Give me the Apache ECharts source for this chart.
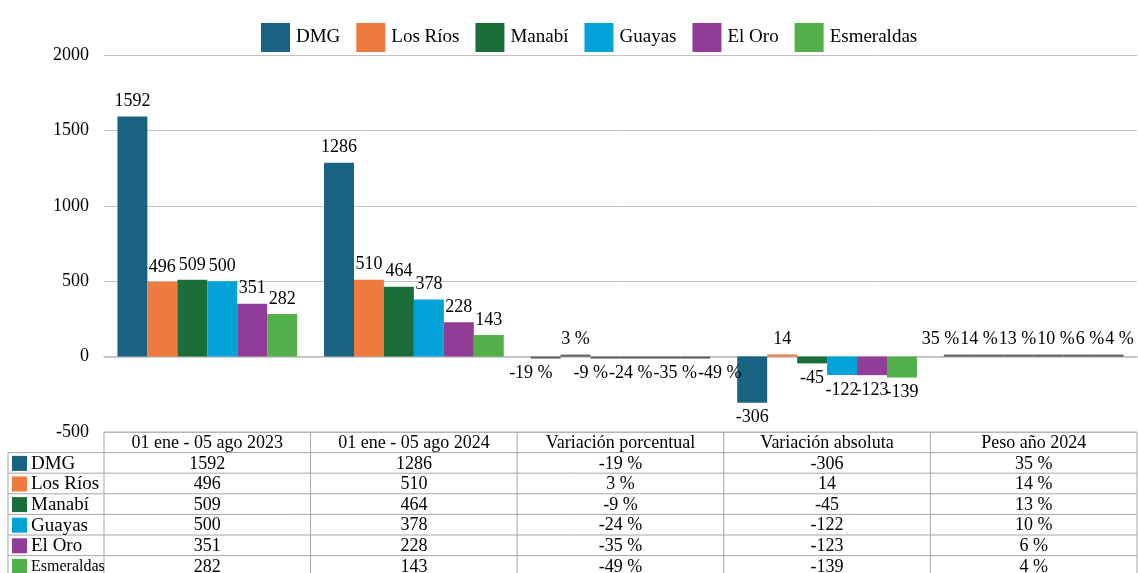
<!DOCTYPE html>
<html>
<head>
<meta charset="utf-8">
<script src="https://cdn.jsdelivr.net/npm/echarts@6/dist/echarts.min.js"></script>
<style>
  html, body { margin: 0; padding: 0; background: #fff; }
  #chart { width: 1138px; height: 573px; }
</style>
</head>
<body>
<div id="chart"></div>
<script>
// categorías del eje x (columnas de la tabla)
const categories = [
  "01 ene - 05 ago 2023",
  "01 ene - 05 ago 2024",
  "Variación porcentual",
  "Variación absoluta",
  "Peso año 2024",
];
// series (filas de la tabla)
const regions = ["DMG", "Los Ríos", "Manabí", "Guayas", "El Oro", "Esmeraldas"];
const colors = ["#1a6282", "#ee7a3f", "#1b6e3a", "#00a2d7", "#913c96", "#51b04a"];

const y2023 = [1592, 496, 509, 500, 351, 282];
const y2024 = [1286, 510, 464, 378, 228, 143];
const varPct = [-0.19, 0.03, -0.09, -0.24, -0.35, -0.49];
const varAbs = [-306, 14, -45, -122, -123, -139];
const peso = [0.35, 0.14, 0.13, 0.1, 0.06, 0.04];

const yTicks = { min: -500, max: 2000, interval: 500 };
const pctCols = [2, 4];

const FONT = "Liberation Serif";
const GRID = { left: 104, right: 1, top: 55, bottom: 141 };

function fmt(v, col) {
  if (pctCols.indexOf(col) >= 0) return Math.round(v * 100) + " %";
  return String(v);
}

(function () {
  var dom = document.getElementById("chart");
  var myChart = echarts.init(dom, null, { renderer: "canvas" });

  // posiciones de etiquetas (para separar las que se solapan)
  var labelRects = {};
  var labelShift = {};
  function labelLayout(p) {
    var key = p.seriesIndex + "_" + p.dataIndex;
    labelRects[key] = {
      series: p.seriesIndex,
      col: p.dataIndex,
      x: p.labelRect.x,
      w: p.labelRect.width,
    };
    return labelShift[key] ? { dx: labelShift[key] } : {};
  }

  var series = regions.map(function (name, i) {
    var vals = [y2023[i], y2024[i], varPct[i], varAbs[i], peso[i]];
    return {
      name: name,
      type: "bar",
      barGap: "0%",
      barCategoryGap: "13%",
      barMinHeight: 2,
      itemStyle: { color: colors[i] },
      label: {
        show: true,
        color: "#000",
        fontFamily: FONT,
        fontSize: 18,
        distance: 6,
        formatter: function (p) {
          return fmt(p.value, p.dataIndex);
        },
      },
      labelLayout: labelLayout,
      data: vals.map(function (v, col) {
        var item = {
          value: v,
          label: { position: v < 0 ? "bottom" : "top" },
        };
        // valores porcentuales: barras casi planas en gris
        if (pctCols.indexOf(col) >= 0) {
          item.itemStyle = { color: "#5f5f5f" };
        }
        return item;
      }),
    };
  });

  var option = {
    animation: false,
    color: colors,
    legend: {
      top: 18,
      left: 256,
      icon: "rect",
      itemWidth: 29,
      itemHeight: 29,
      itemGap: 16,
      textStyle: { color: "#000", fontFamily: FONT, fontSize: 19, padding: [0, 0, 0, 1] },
      data: regions,
    },
    grid: {
      left: GRID.left,
      right: GRID.right,
      top: GRID.top,
      bottom: GRID.bottom,
      containLabel: false,
    },
    xAxis: {
      type: "category",
      data: categories,
      axisLabel: { show: false },
      axisTick: { show: false },
      axisLine: { show: true, onZero: true, lineStyle: { color: "#bdbdbd", width: 1.5 } },
    },
    yAxis: {
      type: "value",
      min: yTicks.min,
      max: yTicks.max,
      interval: yTicks.interval,
      axisLine: { show: false },
      axisTick: { show: false },
      axisLabel: {
        color: "#000",
        fontFamily: FONT,
        fontSize: 18,
        margin: 15,
        formatter: function (v) {
          return String(v);
        },
      },
      splitLine: { lineStyle: { color: "#c4c4c4", width: 1 } },
    },
    series: series,
  };
  myChart.setOption(option);

  // separar etiquetas porcentuales solapadas (por columna y por signo)
  function spreadLabels() {
    pctCols.forEach(function (col) {
      [true, false].forEach(function (neg) {
        var group = [];
        Object.keys(labelRects).forEach(function (key) {
          var r = labelRects[key];
          var vals = [y2023, y2024, varPct, varAbs, peso][col];
          if (r.col === col && (vals[r.series] < 0) === neg) {
            group.push({ key: key, x: r.x, w: r.w });
          }
        });
        group.sort(function (a, b) { return a.x - b.x; });
        var lastEnd = -Infinity;
        var total = 0;
        group.forEach(function (g) {
          g.nx = Math.max(g.x, lastEnd + 1);
          lastEnd = g.nx + g.w;
          total += g.nx - g.x;
        });
        var mean = group.length ? total / group.length : 0;
        group.forEach(function (g) {
          labelShift[g.key] = g.nx - g.x - mean;
        });
      });
    });
    myChart.setOption(option);
  }
  spreadLabels();

  // tabla de datos bajo el gráfico
  function buildTable() {
    var W = myChart.getWidth();
    var H = myChart.getHeight();
    var x0 = GRID.left;
    var x1 = W - GRID.right;
    var colW = (x1 - x0) / categories.length;
    var top = H - GRID.bottom;
    var rowH = 20.6;
    var leftEdge = 8;
    var lineStyle = { stroke: "#a6a6a6", lineWidth: 1 };
    var els = [];
    var nRows = regions.length + 1;
    var bottomY = top + rowH * nRows;

    // líneas horizontales
    for (var r = 0; r <= nRows; r++) {
      var y = top + rowH * r;
      els.push({
        type: "line",
        silent: true,
        shape: { x1: r === 0 ? x0 : leftEdge, y1: y, x2: x1, y2: y },
        style: lineStyle,
      });
    }
    // líneas verticales
    for (var c = 0; c <= categories.length; c++) {
      var x = x0 + colW * c;
      els.push({
        type: "line",
        silent: true,
        shape: { x1: x, y1: top, x2: x, y2: bottomY },
        style: lineStyle,
      });
    }
    els.push({
      type: "line",
      silent: true,
      shape: { x1: leftEdge, y1: top + rowH, x2: leftEdge, y2: bottomY },
      style: lineStyle,
    });

    // encabezados
    categories.forEach(function (cat, c) {
      els.push({
        type: "text",
        silent: true,
        style: {
          x: x0 + colW * (c + 0.5),
          y: top + rowH / 2 + 1,
          text: cat,
          align: "center",
          verticalAlign: "middle",
          fill: "#000",
          font: "18px '" + FONT + "'",
        },
      });
    });

    // filas
    regions.forEach(function (name, i) {
      var cy = top + rowH * (i + 1.5) + 1;
      var vals = [y2023[i], y2024[i], varPct[i], varAbs[i], peso[i]];
      els.push({
        type: "rect",
        silent: true,
        shape: { x: 12, y: cy - 8, width: 15, height: 15 },
        style: { fill: colors[i] },
      });
      els.push({
        type: "text",
        silent: true,
        style: {
          x: 31,
          y: cy,
          text: name,
          align: "left",
          verticalAlign: "middle",
          fill: "#000",
          font: (i === regions.length - 1 ? "16px '" : "19px '") + FONT + "'",
        },
      });
      vals.forEach(function (v, c) {
        els.push({
          type: "text",
          silent: true,
          style: {
            x: x0 + colW * (c + 0.5),
            y: cy,
            text: fmt(v, c),
            align: "center",
            verticalAlign: "middle",
            fill: "#000",
            font: "18px '" + FONT + "'",
          },
        });
      });
    });

    myChart.setOption({ graphic: { elements: els } });
  }
  buildTable();

  window.addEventListener("resize", function () {
    myChart.resize();
    buildTable();
  });
})();
</script>
</body>
</html>
